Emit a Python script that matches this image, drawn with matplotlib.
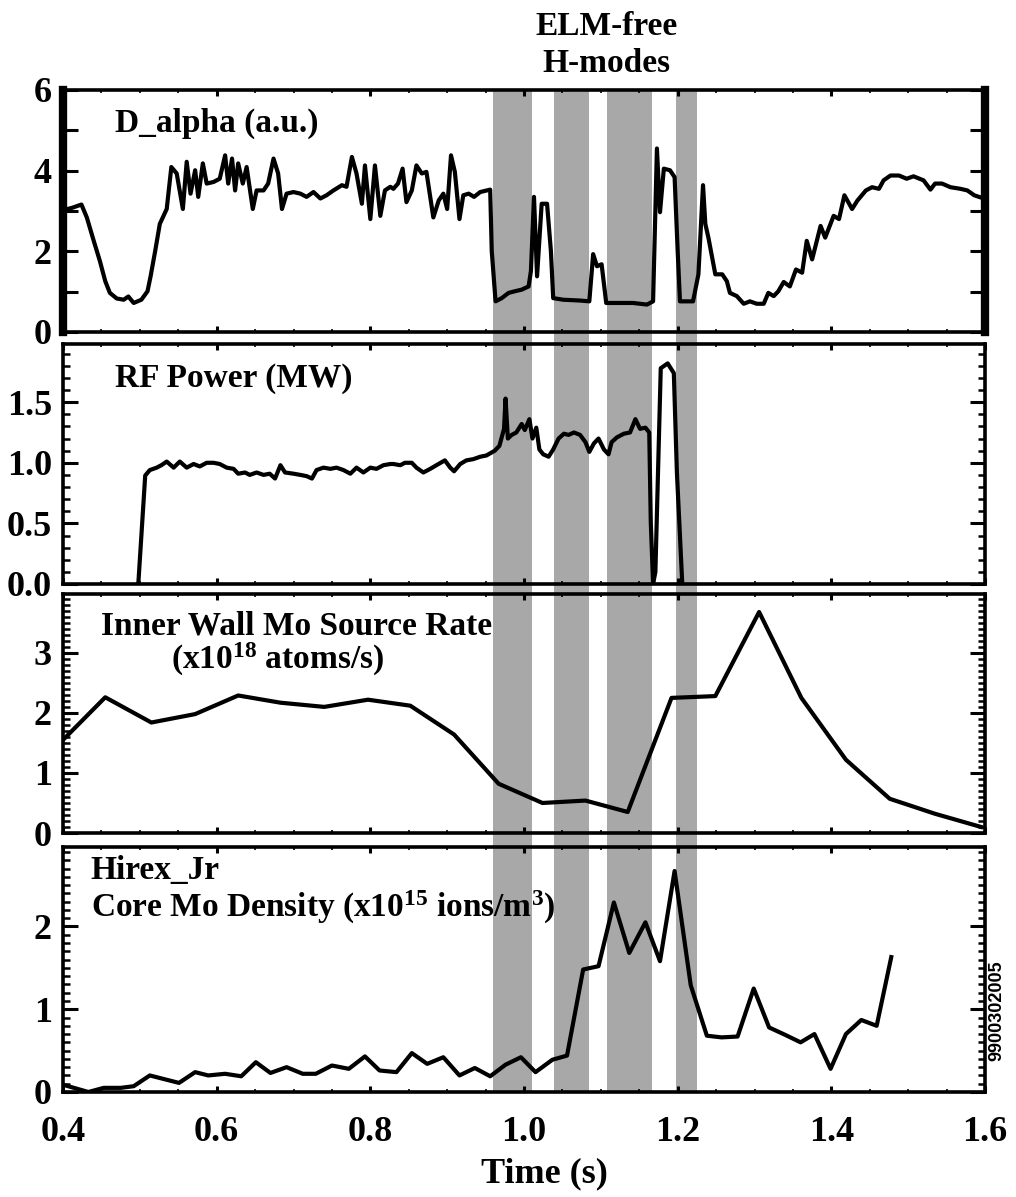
import matplotlib
matplotlib.use("Agg")
import matplotlib.pyplot as plt
from matplotlib.ticker import MultipleLocator, FormatStrFormatter
from matplotlib.patches import Rectangle
from matplotlib.transforms import blended_transform_factory

plt.rcParams['font.family'] = ['Liberation Serif', 'DejaVu Serif']
plt.rcParams['font.weight'] = 'bold'
plt.rcParams['mathtext.fontset'] = 'custom'
plt.rcParams['mathtext.bf'] = 'Liberation Serif:bold'
plt.rcParams['mathtext.rm'] = 'Liberation Serif:bold'
plt.rcParams['mathtext.default'] = 'bf'

# ELM-free H-mode intervals (s)
bands = [(0.960, 1.010), (1.039, 1.085), (1.108, 1.167), (1.198, 1.225)]

# D_alpha (a.u.)
dalpha_t = [0.400, 0.412, 0.424, 0.431, 0.440, 0.448, 0.455, 0.461, 0.470, 0.479,
            0.485, 0.492, 0.502, 0.510, 0.514, 0.520, 0.526, 0.535, 0.541, 0.548,
            0.556, 0.561, 0.566, 0.572, 0.576, 0.582, 0.587, 0.596, 0.604, 0.611,
            0.615, 0.620, 0.624, 0.628, 0.634, 0.639, 0.647, 0.652, 0.661, 0.667,
            0.674, 0.680, 0.685, 0.691, 0.700, 0.709, 0.717, 0.726, 0.735, 0.743,
            0.752, 0.763, 0.769, 0.776, 0.782, 0.789, 0.793, 0.800, 0.806, 0.813,
            0.819, 0.826, 0.830, 0.836, 0.842, 0.847, 0.854, 0.860, 0.867, 0.873,
            0.882, 0.889, 0.895, 0.900, 0.905, 0.910, 0.916, 0.921, 0.928, 0.935,
            0.943, 0.956, 0.958, 0.963, 0.971, 0.980, 0.988, 0.997, 1.006, 1.009,
            1.013, 1.017, 1.023, 1.030, 1.035, 1.038, 1.051, 1.073, 1.085, 1.090,
            1.095, 1.101, 1.107, 1.125, 1.142, 1.160, 1.168, 1.171, 1.173, 1.177,
            1.182, 1.190, 1.196, 1.200, 1.203, 1.220, 1.227, 1.233, 1.236, 1.240,
            1.249, 1.258, 1.264, 1.268, 1.277, 1.286, 1.294, 1.303, 1.312, 1.318,
            1.325, 1.331, 1.338, 1.346, 1.354, 1.362, 1.368, 1.375, 1.386, 1.392,
            1.403, 1.410, 1.417, 1.427, 1.434, 1.445, 1.453, 1.462, 1.468, 1.477,
            1.488, 1.498, 1.507, 1.520, 1.529, 1.535, 1.544, 1.555, 1.568, 1.577,
            1.586, 1.600]
dalpha_v = [3.02, 3.08, 3.16, 2.84, 2.26, 1.76, 1.26, 0.97, 0.83, 0.80,
            0.88, 0.72, 0.80, 1.01, 1.38, 2.01, 2.68, 3.05, 4.09, 3.93,
            3.05, 4.22, 3.43, 4.01, 3.35, 4.18, 3.68, 3.72, 3.80, 4.38,
            3.68, 4.30, 3.51, 4.18, 3.68, 4.09, 3.05, 3.51, 3.51, 3.68,
            4.30, 3.93, 3.05, 3.43, 3.47, 3.43, 3.35, 3.47, 3.31, 3.39,
            3.51, 3.64, 3.60, 4.34, 3.93, 3.18, 4.13, 2.80, 4.13, 2.88,
            3.51, 3.60, 3.55, 3.68, 4.05, 3.22, 3.51, 4.13, 3.93, 3.97,
            2.84, 3.26, 3.43, 3.05, 4.38, 3.97, 2.80, 3.39, 3.43, 3.35,
            3.47, 3.53, 2.01, 0.76, 0.84, 0.97, 1.01, 1.05, 1.13, 1.51,
            3.35, 1.38, 3.18, 3.18, 2.01, 0.84, 0.80, 0.78, 0.76, 1.93,
            1.63, 1.68, 0.72, 0.72, 0.72, 0.68, 0.76, 3.01, 4.55, 2.97,
            4.05, 4.01, 3.84, 2.01, 0.76, 0.76, 1.43, 3.64, 2.68, 2.34,
            1.43, 1.43, 1.26, 0.97, 0.89, 0.70, 0.76, 0.70, 0.70, 0.97,
            0.89, 1.01, 1.24, 1.13, 1.55, 1.47, 2.26, 1.80, 2.63, 2.34,
            2.88, 2.80, 3.39, 3.05, 3.26, 3.51, 3.59, 3.55, 3.76, 3.88,
            3.88, 3.80, 3.86, 3.76, 3.53, 3.68, 3.68, 3.59, 3.55, 3.51,
            3.39, 3.30]

# RF power (MW)
rf_t = [0.498, 0.507, 0.513, 0.522, 0.528, 0.535, 0.544, 0.552, 0.561, 0.570,
        0.578, 0.587, 0.596, 0.604, 0.613, 0.622, 0.628, 0.637, 0.643, 0.652,
        0.661, 0.669, 0.676, 0.683, 0.689, 0.700, 0.709, 0.717, 0.724, 0.730,
        0.739, 0.748, 0.756, 0.765, 0.774, 0.782, 0.791, 0.800, 0.808, 0.817,
        0.826, 0.830, 0.839, 0.845, 0.854, 0.860, 0.869, 0.878, 0.886, 0.897,
        0.904, 0.909, 0.917, 0.925, 0.934, 0.943, 0.951, 0.962, 0.968, 0.974,
        0.976, 0.979, 0.984, 0.990, 0.997, 1.001, 1.007, 1.011, 1.016, 1.020,
        1.025, 1.032, 1.038, 1.045, 1.052, 1.058, 1.065, 1.073, 1.080, 1.085,
        1.091, 1.097, 1.104, 1.110, 1.114, 1.121, 1.130, 1.138, 1.145, 1.151,
        1.158, 1.163, 1.165, 1.168, 1.171, 1.175, 1.178, 1.187, 1.195, 1.199,
        1.206]
rf_v = [0.00, 0.895, 0.94, 0.96, 0.98, 1.01, 0.96, 1.01, 0.96, 0.99,
        0.97, 1.00, 1.00, 0.99, 0.96, 0.95, 0.91, 0.92, 0.90, 0.92,
        0.90, 0.91, 0.87, 0.98, 0.92, 0.91, 0.90, 0.89, 0.87, 0.94,
        0.96, 0.95, 0.96, 0.94, 0.91, 0.96, 0.92, 0.96, 0.95, 0.98,
        0.99, 0.99, 0.98, 1.00, 1.00, 0.96, 0.92, 0.95, 0.98, 1.02,
        0.96, 0.93, 0.99, 1.02, 1.03, 1.05, 1.06, 1.10, 1.14, 1.28,
        1.53, 1.20, 1.23, 1.25, 1.32, 1.27, 1.36, 1.20, 1.29, 1.11,
        1.07, 1.05, 1.11, 1.20, 1.24, 1.23, 1.25, 1.23, 1.17, 1.09,
        1.16, 1.20, 1.11, 1.07, 1.17, 1.21, 1.24, 1.25, 1.36, 1.28,
        1.29, 1.25, 0.51, 0.00, 0.10, 1.06, 1.78, 1.82, 1.74, 0.92,
        0.00]

# Inner wall Mo source rate (x1e18 atoms/s)
src_t = [0.400, 0.455, 0.515, 0.572, 0.628, 0.683, 0.740, 0.797, 0.852, 0.909,
         0.967, 1.024, 1.080, 1.135, 1.192, 1.249, 1.306, 1.361, 1.419, 1.476,
         1.535, 1.595]
src_v = [1.55, 2.26, 1.84, 1.98, 2.29, 2.17, 2.10, 2.22, 2.12, 1.64,
         0.82, 0.50, 0.54, 0.35, 2.25, 2.28, 3.68, 2.25, 1.22, 0.57,
         0.32, 0.10]

# Hirex_Jr core Mo density (x1e15 ions/m^3)
core_t = [0.403, 0.433, 0.453, 0.475, 0.492, 0.513, 0.534, 0.551, 0.572, 0.589,
          0.611, 0.632, 0.651, 0.670, 0.691, 0.712, 0.729, 0.750, 0.772, 0.793,
          0.812, 0.834, 0.854, 0.874, 0.895, 0.916, 0.936, 0.956, 0.976, 0.996,
          1.015, 1.037, 1.056, 1.077, 1.097, 1.117, 1.137, 1.158, 1.177, 1.196,
          1.217, 1.238, 1.257, 1.278, 1.299, 1.319, 1.340, 1.360, 1.378, 1.399,
          1.419, 1.439, 1.459, 1.478]
core_v = [0.08, 0.00, 0.05, 0.05, 0.07, 0.20, 0.15, 0.11, 0.24, 0.20,
          0.22, 0.19, 0.36, 0.23, 0.30, 0.22, 0.22, 0.32, 0.28, 0.43,
          0.26, 0.24, 0.47, 0.34, 0.42, 0.20, 0.29, 0.19, 0.33, 0.42,
          0.24, 0.39, 0.44, 1.48, 1.52, 2.29, 1.68, 2.05, 1.58, 2.67,
          1.29, 0.68, 0.66, 0.67, 1.25, 0.78, 0.69, 0.60, 0.70, 0.28,
          0.70, 0.87, 0.80, 1.63]

W, H = 1016, 1197
fig = plt.figure(figsize=(W / 100, H / 100), dpi=100)

left, width = 63 / W, 922 / W
# (top px, bottom px) of each panel
rows = [(90, 332), (344, 584), (594, 833), (847, 1092)]
axes = []
for top, bot in rows:
    ax = fig.add_axes([left, 1 - bot / H, width, (bot - top) / H])
    ax.set_facecolor('none')
    axes.append(ax)
ax1, ax2, ax3, ax4 = axes

lw = 3.0
ax1.plot(dalpha_t, dalpha_v, color='black', lw=lw, solid_joinstyle='round')
ax2.plot(rf_t, rf_v, color='black', lw=lw, solid_joinstyle='round')
ax3.plot(src_t, src_v, color='black', lw=lw, solid_joinstyle='round')
ax4.plot(core_t, core_v, color='black', lw=lw, solid_joinstyle='round')

ax1.set_ylim(0, 6)
ax2.set_ylim(0, 1.98)
ax3.set_ylim(0, 3.98)
ax4.set_ylim(0, 2.96)

ax1.yaxis.set_major_locator(MultipleLocator(2))
ax1.yaxis.set_minor_locator(MultipleLocator(1))
ax2.yaxis.set_major_locator(MultipleLocator(0.5))
ax2.yaxis.set_major_formatter(FormatStrFormatter('%.1f'))
ax2.yaxis.set_minor_locator(MultipleLocator(0.1))
for ax in (ax3, ax4):
    ax.yaxis.set_major_locator(MultipleLocator(1))
    ax.yaxis.set_minor_locator(MultipleLocator(0.1))

for ax in axes:
    ax.set_xlim(0.4, 1.6)
    ax.xaxis.set_major_locator(MultipleLocator(0.2))
    ax.xaxis.set_minor_locator(MultipleLocator(0.05))
    ax.xaxis.set_major_formatter(FormatStrFormatter('%.1f'))
    ax.tick_params(axis='both', which='both', direction='in',
                   left=True, right=True, top=True, bottom=True)
    ax.tick_params(axis='y', which='major', length=11, width=2.2,
                   labelsize=26, pad=8)
    ax.tick_params(axis='y', which='minor', length=5, width=1.8)
    ax.tick_params(axis='x', which='major', length=4, width=2.2,
                   labelsize=26, pad=17)
    ax.tick_params(axis='x', which='minor', length=2.5, width=1.2)
    for s in ax.spines.values():
        s.set_linewidth(2.6)
    if ax is not ax4:
        ax.tick_params(axis='x', labelbottom=False)

ax1.tick_params(axis='y', which='minor', length=11, width=2.2)
ax1.spines['left'].set_linewidth(6)
ax1.spines['right'].set_linewidth(6)

# shaded ELM-free intervals spanning all panels
trans = blended_transform_factory(ax4.transData, fig.transFigure)
y_lo = 1 - rows[3][1] / H
y_hi = 1 - rows[0][0] / H
for t0, t1 in bands:
    fig.patches.append(Rectangle((t0, y_lo), t1 - t0, y_hi - y_lo,
                                 transform=trans, facecolor='#a8a8a8',
                                 edgecolor='none', zorder=-1))

fs = 24
ax1.text(0.056, 0.864, 'D_alpha (a.u.)', transform=ax1.transAxes,
         fontsize=fs, ha='left', va='center')
ax2.text(0.056, 0.858, 'RF Power (MW)', transform=ax2.transAxes,
         fontsize=fs, ha='left', va='center')
ax3.text(0.041, 0.868, 'Inner Wall Mo Source Rate', transform=ax3.transAxes,
         fontsize=fs, ha='left', va='center')
ax3.text(0.117, 0.725, r'(x10$^{18}$ atoms/s)', transform=ax3.transAxes,
         fontsize=fs, ha='left', va='center')
ax4.text(0.030, 0.906, 'Hirex_Jr', transform=ax4.transAxes,
         fontsize=fs, ha='left', va='center')
ax4.text(0.030, 0.755, r'Core Mo Density (x10$^{15}$ ions/m$^{3}$)',
         transform=ax4.transAxes, fontsize=fs, ha='left', va='center')

fig.text(0.597, 0.978, 'ELM-free', fontsize=24, ha='center', va='center')
fig.text(0.597, 0.947, 'H-modes', fontsize=24, ha='center', va='center')
fig.text(0.536, 0.019, 'Time (s)', fontsize=26, ha='center', va='center')
fig.text(0.981, 0.156, '9900302005', fontsize=13, rotation=90,
         ha='center', va='center', family=['Liberation Sans', 'DejaVu Sans'])

fig.savefig('out.png', dpi=100)
